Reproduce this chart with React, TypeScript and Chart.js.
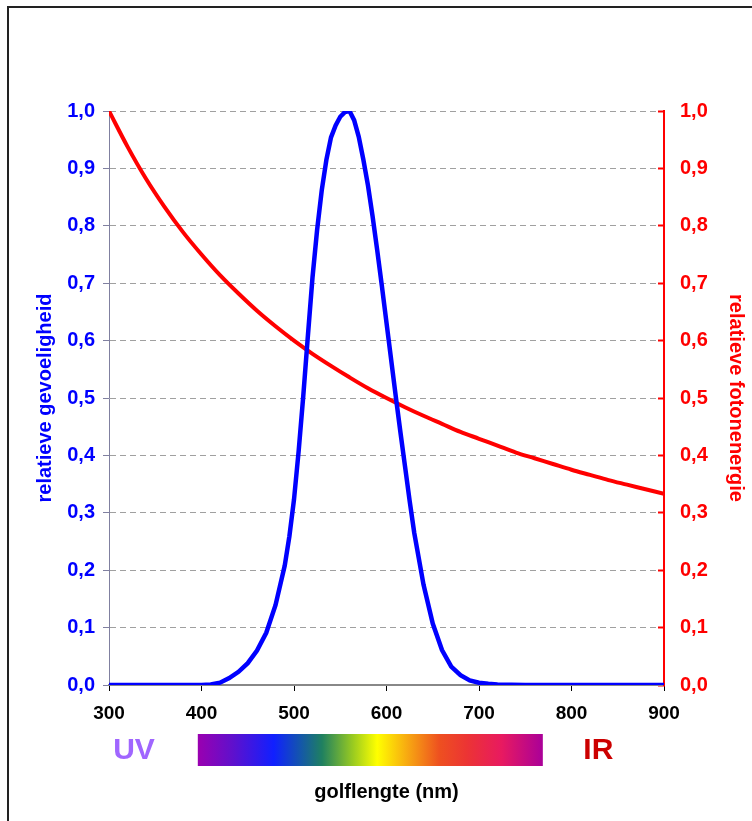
import React, { useEffect, useRef } from "react";
import { Chart, registerables } from "chart.js";

Chart.register(...registerables);

// Wavelength (nm) and relative eye sensitivity (blue curve)
const blueNm = [300, 350, 400, 410, 420, 430, 440, 450, 460, 470, 480, 490, 495, 500, 505, 510, 515, 520, 525, 530, 535, 540, 545, 550, 555, 560, 565, 570, 575, 580, 585, 590, 595, 600, 605, 610, 615, 620, 625, 630, 640, 650, 660, 670, 680, 690, 700, 710, 720, 750, 800, 850, 900];
const blueVal = [0, 0, 0, 0.001, 0.004, 0.012, 0.023, 0.038, 0.06, 0.091, 0.139, 0.208, 0.259, 0.323, 0.407, 0.503, 0.608, 0.71, 0.793, 0.862, 0.915, 0.954, 0.975, 0.99, 0.998, 1.0, 0.984, 0.955, 0.915, 0.87, 0.816, 0.757, 0.695, 0.631, 0.567, 0.503, 0.441, 0.381, 0.321, 0.265, 0.175, 0.107, 0.061, 0.032, 0.017, 0.008, 0.004, 0.002, 0.001, 0, 0, 0, 0];

// Wavelength (nm) and relative photon energy (red curve)
const redNm = [300, 320, 340, 360, 380, 400, 420, 440, 460, 480, 500, 520, 540, 560, 580, 600, 620, 640, 660, 680, 700, 720, 740, 760, 780, 800, 820, 840, 860, 880, 900];
const redVal = [1.0, 0.938, 0.882, 0.833, 0.789, 0.75, 0.714, 0.682, 0.652, 0.625, 0.6, 0.577, 0.556, 0.536, 0.517, 0.5, 0.484, 0.469, 0.455, 0.441, 0.429, 0.417, 0.405, 0.395, 0.385, 0.375, 0.366, 0.357, 0.349, 0.341, 0.333];

// Visible spectrum strip (nm) and label positions (nm)
const spectrumRange = [396, 769];
const uvAt = 327;
const irAt = 829;
const uvText = "UV";
const irText = "IR";

const xTitle = "golflengte (nm)";
const yTitle = "relatieve gevoeligheid";
const y2Title = "relatieve fotonenergie";

const FONT = "'Liberation Sans', Arial, Helvetica, sans-serif";

const spectrumStops: [number, string][] = [
  [0, "#9a00b0"],
  [0.1, "#6010cc"],
  [0.22, "#1020ff"],
  [0.3, "#1458a8"],
  [0.36, "#1f8060"],
  [0.45, "#9acb20"],
  [0.52, "#ffff00"],
  [0.6, "#f8b010"],
  [0.7, "#ee5020"],
  [0.78, "#ec3434"],
  [0.88, "#e81a60"],
  [1, "#aa0099"],
];

const fmt = (v: number) => v.toFixed(1).replace(".", ",");

export default function App() {
  const ref = useRef<HTMLCanvasElement>(null);

  useEffect(() => {
    const spectrumPlugin = {
      id: "spectrum",
      afterDraw(chart: any) {
        const ctx = chart.ctx as CanvasRenderingContext2D;
        const xs = chart.scales.x;
        const x0 = xs.getPixelForValue(spectrumRange[0]);
        const x1 = xs.getPixelForValue(spectrumRange[1]);
        const top = 734;
        const h = 32;
        ctx.save();
        const g = ctx.createLinearGradient(x0, 0, x1, 0);
        spectrumStops.forEach(([p, c]) => g.addColorStop(p, c));
        ctx.fillStyle = g;
        ctx.fillRect(x0, top, x1 - x0, h);
        ctx.font = `bold 30px ${FONT}`;
        ctx.textAlign = "center";
        ctx.textBaseline = "middle";
        ctx.fillStyle = "#a066ff";
        ctx.fillText(uvText, xs.getPixelForValue(uvAt), top + h / 2 + 1);
        ctx.fillStyle = "#cc0000";
        ctx.fillText(irText, xs.getPixelForValue(irAt), top + h / 2 + 1);
        ctx.restore();
      },
    };

    const chart = new Chart(ref.current!, {
      type: "line",
      data: {
        datasets: [
          {
            label: yTitle,
            data: blueNm.map((x, i) => ({ x, y: blueVal[i] })),
            borderColor: "#0000ff",
            backgroundColor: "#0000ff",
            borderWidth: 4.5,
            pointRadius: 0,
            tension: 0,
            yAxisID: "y",
          },
          {
            label: y2Title,
            data: redNm.map((x, i) => ({ x, y: redVal[i] })),
            borderColor: "#ff0000",
            backgroundColor: "#ff0000",
            borderWidth: 4,
            pointRadius: 0,
            cubicInterpolationMode: "monotone",
            yAxisID: "y2",
          },
        ],
      },
      options: {
        responsive: false,
        animation: false,
        devicePixelRatio: 1,
        layout: { padding: { top: 111, left: 0, right: 0, bottom: 0 } },
        plugins: { legend: { display: false }, tooltip: { enabled: false } },
        scales: {
          x: {
            type: "linear",
            min: 300,
            max: 900,
            afterFit: (s: any) => {
              s.height = 136;
            },
            ticks: {
              stepSize: 100,
              color: "#000000",
              padding: 11,
              maxRotation: 0,
              font: { family: FONT, size: 19, weight: "bold" },
              callback: (v: any) => String(v),
            },
            grid: {
              drawOnChartArea: false,
              drawTicks: true,
              tickLength: 6,
              tickColor: "#000000",
              tickWidth: 1,
            },
            border: { color: "#888888", width: 2 },
            title: {
              display: true,
              text: xTitle,
              color: "#000000",
              font: { family: FONT, size: 20, weight: "bold" },
              padding: { top: 0, bottom: 17 },
            },
          },
          y: {
            type: "linear",
            position: "left",
            min: 0,
            max: 1,
            afterFit: (s: any) => {
              s.width = 109;
            },
            ticks: {
              stepSize: 0.1,
              color: "#0000ff",
              padding: 8,
              font: { family: FONT, size: 20, weight: "bold" },
              callback: (v: any) => fmt(Number(v)),
            },
            grid: {
              color: "#a0a0a0",
              lineWidth: 1,
              drawTicks: true,
              tickLength: 6,
              tickColor: "#8080a0",
              tickBorderDash: [],
            },
            border: { color: "#8080a0", width: 1, dash: [6, 4] },
            title: {
              display: true,
              text: yTitle,
              color: "#0000ff",
              font: { family: FONT, size: 20, weight: "bold" },
              padding: { top: 33, bottom: 0 },
            },
          },
          y2: {
            type: "linear",
            position: "right",
            min: 0,
            max: 1,
            afterFit: (s: any) => {
              s.width = 88;
            },
            ticks: {
              stepSize: 0.1,
              color: "#ff0000",
              padding: 22,
              font: { family: FONT, size: 20, weight: "bold" },
              callback: (v: any) => fmt(Number(v)),
            },
            grid: {
              drawOnChartArea: false,
              drawTicks: true,
              tickLength: -6,
              tickColor: "#ff0000",
              tickWidth: 2,
              tickBorderDash: [],
            },
            border: { color: "#ff0000", width: 2 },
            title: {
              display: true,
              text: y2Title,
              color: "#ff0000",
              font: { family: FONT, size: 20, weight: "bold" },
              padding: { top: 4, bottom: 0 },
            },
          },
        },
      },
      plugins: [spectrumPlugin],
    } as any);

    return () => chart.destroy();
  }, []);

  return (
    <div
      style={{
        position: "fixed",
        left: 0,
        top: 0,
        width: 752,
        height: 821,
        overflow: "hidden",
        background: "#ffffff",
      }}
    >
      <div
        style={{
          position: "absolute",
          left: 7,
          top: 6,
          width: 800,
          height: 900,
          border: "2px solid #222222",
          boxSizing: "border-box",
        }}
      />
      <canvas
        ref={ref}
        width={752}
        height={821}
        style={{ position: "absolute", left: 0, top: 0, width: 752, height: 821 }}
      />
    </div>
  );
}
